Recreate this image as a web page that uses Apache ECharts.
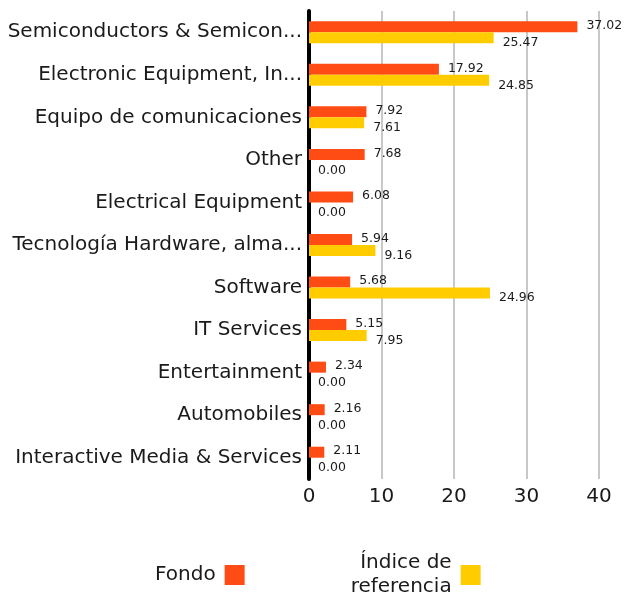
<!DOCTYPE html>
<html><head><meta charset="utf-8">
<script src="https://cdn.jsdelivr.net/npm/echarts@6/dist/echarts.min.js"></script>
<style>html,body{margin:0;padding:0;background:#fff}#c{width:626px;height:596px}</style>
</head><body><div id="c"></div>
<script>
const categories = ["Semiconductors & Semicon...", "Electronic Equipment, In...", "Equipo de comunicaciones", "Other", "Electrical Equipment", "Tecnología Hardware, alma...", "Software", "IT Services", "Entertainment", "Automobiles", "Interactive Media & Services"];
const fondo = [37.02, 17.92, 7.92, 7.68, 6.08, 5.94, 5.68, 5.15, 2.34, 2.16, 2.11];
const indice = [25.47, 24.85, 7.61, 0.00, 0.00, 9.16, 24.96, 7.95, 0.00, 0.00, 0.00];
const xTicks = [0, 10, 20, 30, 40];
const seriesNames = ["Fondo", "Índice de\nreferencia"];

const FONT = "DejaVu Sans";
const chart = echarts.init(document.getElementById('c'), null, {renderer: 'canvas'});
chart.setOption({
  animation: false,
  textStyle: {fontFamily: FONT},
  grid: {left: 309, right: 27, top: 11, bottom: 117, containLabel: false},
  legend: {
    top: 551, left: 155, align: 'right', itemWidth: 20, itemHeight: 20, itemGap: 106,
    icon: 'rect', padding: 0,
    textStyle: {fontSize: 20, color: '#1a1a1a', fontFamily: FONT, align: 'right', lineHeight: 24, padding: [0, 4, 0, 0]},
    data: seriesNames
  },
  xAxis: {
    type: 'value', min: xTicks[0], max: xTicks[xTicks.length - 1], interval: 10,
    axisLine: {show: false}, axisTick: {show: false},
    splitLine: {show: true, lineStyle: {color: '#c8c8c8', width: 2}},
    axisLabel: {fontSize: 20, color: '#1a1a1a', margin: 8, fontFamily: FONT,
      formatter: v => xTicks.includes(v) ? String(v) : ''}
  },
  yAxis: {
    type: 'category', data: categories, inverse: true,
    axisLine: {show: true, lineStyle: {color: '#000', width: 4}},
    axisTick: {show: false},
    axisLabel: {fontSize: 20, color: '#1a1a1a', margin: 7, fontFamily: FONT}
  },
  series: [
    {name: seriesNames[0], type: 'bar', data: fondo, barWidth: 11, barGap: '0%',
     itemStyle: {color: '#ff4b14'},
     label: {show: true, position: 'right', distance: 9, offset: [0, -1], fontSize: 12.5, color: '#1a1a1a',
       formatter: p => p.value.toFixed(2)}},
    {name: seriesNames[1], type: 'bar', data: indice, barWidth: 11, barGap: '0%',
     itemStyle: {color: '#ffcc00'},
     label: {show: true, position: 'right', distance: 9, offset: [0, 5], fontSize: 12.5, color: '#1a1a1a',
       formatter: p => p.value.toFixed(2)}}
  ]
});
</script></body></html>
